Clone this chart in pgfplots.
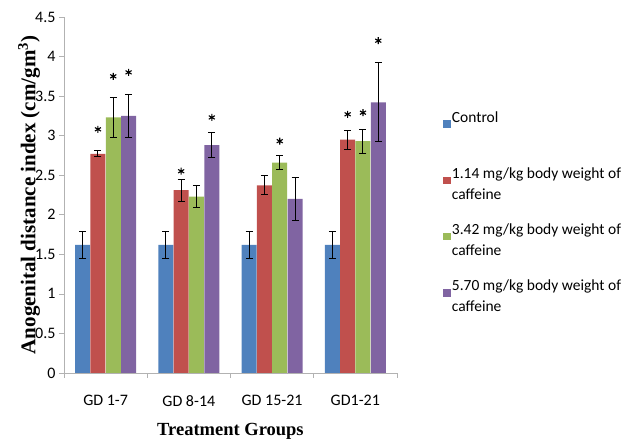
\documentclass[border=0pt]{standalone}
\usepackage{pgfplots}
\pgfplotsset{compat=1.18}
\usepackage{fontspec}
\setmainfont{Carlito}
\newfontfamily\timesfont{Liberation Serif}
\definecolor{cblue}{HTML}{4F81BD}
\definecolor{cred}{HTML}{C0504D}
\definecolor{cgreen}{HTML}{9BBB59}
\definecolor{cpurple}{HTML}{8064A2}
\begin{document}
\begin{tikzpicture}[x=1pt,y=1pt]
\path (0,0) rectangle (625,441);
\begin{axis}[
  at={(64pt,68pt)}, anchor=south west,
  scale only axis, width=333pt, height=356pt,
  xmin=-0.5, xmax=3.5, ymin=0, ymax=4.5,
  axis x line*=bottom, axis y line*=left,
  axis line style={gray!60, -},
  /pgf/number format/assume math mode=true,
  ticklabel style={font=\fontsize{16}{18}\selectfont},
  ytick={0,0.5,...,4.5},
  yticklabel style={/pgf/number format/fixed, /pgf/number format/precision=1},
  ytick style={gray!60, line width=0.6pt},
  tick align=outside,
  major tick length=5pt,
  minor tick length=5pt,
  xtick={0,1,2,3},
  xticklabels={GD 1-7, GD 8-14, GD 15-21, GD1-21},
  major x tick style={draw=none},
  minor xtick={-0.5,0.5,1.5,2.5,3.5},
  minor x tick style={gray!60, line width=0.6pt},
  xticklabel style={yshift=-14pt},
  xlabel={\timesfont\bfseries Treatment Groups},
  xlabel style={font=\fontsize{18.5}{20}\selectfont, at={(axis description cs:0.5,0)}, anchor=center, yshift=-58pt},
  ylabel={\timesfont\bfseries Anogenital distance index (cm/gm\textsuperscript{3})},
  ylabel style={font=\fontsize{21}{22}\selectfont, at={(axis description cs:-0.105,0.5)}, anchor=center, rotate=0},
  legend style={at={(axis description cs:1.13,0.744)}, anchor=north west, draw=none, fill=none,
    font=\fontsize{15.5}{21}\selectfont, row sep=21pt, column sep=0pt,
    nodes={align=left, inner sep=1pt}},
  legend cell align=left,
  error bars/error bar style={black, line width=1pt},
  error bars/error mark options={rotate=90, mark size=3.5pt, black, line width=1pt},
]
\addplot[ybar, bar width=15pt, bar shift=0pt, fill=cblue, draw=none,
  legend image code/.code={\fill[cblue] (0pt,0pt) rectangle (7.5pt,7.5pt);},
  error bars/.cd, y dir=both, y explicit]
  coordinates {(-0.276,1.62) +- (0,0.17) (0.724,1.62) +- (0,0.17) (1.724,1.62) +- (0,0.17) (2.724,1.62) +- (0,0.17)};
\addlegendentry{Control\\\mbox{}}
\addplot[ybar, bar width=15pt, bar shift=0pt, fill=cred, draw=none,
  legend image code/.code={\fill[cred] (0pt,0pt) rectangle (7.5pt,7.5pt);},
  error bars/.cd, y dir=both, y explicit]
  coordinates {(-0.092,2.77) +- (0,0.04) (0.908,2.31) +- (0,0.14) (1.908,2.37) +- (0,0.12) (2.908,2.95) +- (0,0.12)};
\addlegendentry{1.14 mg/kg body weight of\\caffeine}
\addplot[ybar, bar width=15pt, bar shift=0pt, fill=cgreen, draw=none,
  legend image code/.code={\fill[cgreen] (0pt,0pt) rectangle (7.5pt,7.5pt);},
  error bars/.cd, y dir=both, y explicit]
  coordinates {(0.092,3.23) +- (0,0.25) (1.092,2.23) +- (0,0.14) (2.092,2.66) +- (0,0.09) (3.092,2.93) +- (0,0.15)};
\addlegendentry{3.42 mg/kg body weight of\\caffeine}
\addplot[ybar, bar width=15pt, bar shift=0pt, fill=cpurple, draw=none,
  legend image code/.code={\fill[cpurple] (0pt,0pt) rectangle (7.5pt,7.5pt);},
  error bars/.cd, y dir=both, y explicit]
  coordinates {(0.276,3.25) +- (0,0.27) (1.276,2.88) +- (0,0.16) (2.276,2.20) +- (0,0.27) (3.276,3.42) +- (0,0.50)};
\addlegendentry{5.70 mg/kg body weight of\\caffeine}
\addplot[only marks, mark=asterisk, mark size=3.5pt, line width=1.1pt, black, forget plot]
  coordinates {(-0.092,3.08) (0.092,3.75) (0.276,3.80)
               (0.908,2.55) (1.276,3.23)
               (2.092,2.93)
               (2.908,3.27) (3.092,3.29) (3.276,4.20)};
\end{axis}
\end{tikzpicture}
\end{document}
